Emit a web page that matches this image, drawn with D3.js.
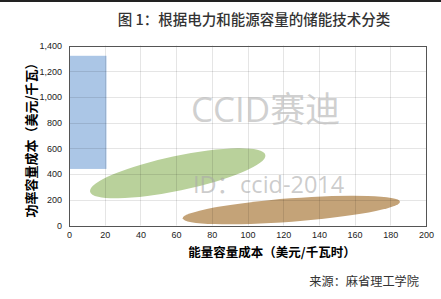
<!DOCTYPE html>
<html>
<head>
<meta charset="utf-8">
<script src="https://cdn.jsdelivr.net/npm/d3@7"></script>
<style>
  body { margin: 0; background: #fff; }
  svg { display: block; }
</style>
</head>
<body>
<svg id="chart" width="441" height="299"></svg>
<script>
// axis ticks
const xTicks = [0, 20, 40, 60, 80, 100, 120, 140, 160, 180, 200];
const yTicks = [0, 200, 400, 600, 800, 1000, 1200, 1400];

// blue block: energy cost range / power cost range
const rectEnergy = [0, 21];
const rectPower = [440, 1320];

// ellipses: ends of the long axis (energy cost, power cost) and half width in power cost
const ellipseIds = ["green", "brown"];
const ellipseX1 = [11.8, 63.7];
const ellipseY1 = [263, 56];
const ellipseX2 = [110, 185.4];
const ellipseY2 = [549, 185];
const ellipseHalf = [135, 91];
const ellipseColors = ["#b9d19b", "#c4a378"];

const svg = d3.select("#chart");
const W = 441, H = 299;
let margin = {top: 45.5, right: 15, bottom: 73.5, left: 69};

let x = d3.scaleLinear().domain([0, 200]).range([margin.left, W - margin.right]);
let y = d3.scaleLinear().domain([0, 1400]).range([H - margin.bottom, margin.top]);

// top rule of the page
svg.append("rect")
    .attr("x", 0).attr("y", 0)
    .attr("width", W).attr("height", 2)
    .attr("fill", "#222");

// title
svg.append("text")
    .attr("x", 254).attr("y", 25)
    .attr("text-anchor", "middle")
    .attr("font-family", "'Noto Sans CJK SC'")
    .attr("font-size", 14.5)
    .attr("font-weight", 500)
    .attr("fill", "#333")
    .text("图 1：根据电力和能源容量的储能技术分类");

// blue block
svg.append("rect")
    .attr("x", x(rectEnergy[0]))
    .attr("y", y(rectPower[1]))
    .attr("width", x(rectEnergy[1]) - x(rectEnergy[0]))
    .attr("height", y(rectPower[0]) - y(rectPower[1]))
    .attr("fill", "#abc6e6");

// ellipses
let ell = ellipseIds.map((id, i) => {
    let px1 = x(ellipseX1[i]), py1 = y(ellipseY1[i]);
    let px2 = x(ellipseX2[i]), py2 = y(ellipseY2[i]);
    return {
        id: id,
        cx: (px1 + px2) / 2,
        cy: (py1 + py2) / 2,
        rx: Math.hypot(px2 - px1, py2 - py1) / 2,
        ry: y(0) - y(ellipseHalf[i]),
        angle: Math.atan2(py2 - py1, px2 - px1) * 180 / Math.PI,
        color: ellipseColors[i]
    };
});

svg.selectAll(".tech")
    .data(ell)
    .enter()
    .append("ellipse")
        .classed("tech", true)
        .attr("rx", d => d.rx)
        .attr("ry", d => d.ry)
        .attr("transform", d => "translate(" + d.cx + "," + d.cy + ") rotate(" + d.angle + ")")
        .attr("fill", d => d.color);

// grid (drawn on top, faint)
let grid = svg.append("g")
    .attr("stroke", "#000")
    .attr("stroke-opacity", 0.1)
    .attr("stroke-width", 1);
grid.selectAll(".gx")
    .data(xTicks.slice(1, -1))
    .enter().append("line")
        .attr("x1", d => Math.round(x(d)) + 0.5).attr("x2", d => Math.round(x(d)) + 0.5)
        .attr("y1", y(1400)).attr("y2", y(0));
grid.selectAll(".gy")
    .data(yTicks.slice(1, -1))
    .enter().append("line")
        .attr("y1", d => Math.round(y(d)) + 0.5).attr("y2", d => Math.round(y(d)) + 0.5)
        .attr("x1", x(0)).attr("x2", x(200));

// watermark
svg.append("text")
    .attr("x", 191).attr("y", 122)
    .attr("font-family", "'Open Sans','Noto Sans CJK SC'")
    .attr("font-size", 35)
    .attr("fill", "#bbb")
    .attr("fill-opacity", 0.7)
    .text("CCID赛迪");
svg.append("text")
    .attr("x", 193).attr("y", 193)
    .attr("font-family", "'Open Sans','Noto Sans CJK SC'")
    .attr("font-size", 23.5)
    .attr("fill", "#aaa")
    .attr("fill-opacity", 0.6)
    .text("ID：ccid-2014");

// frame
svg.append("rect")
    .attr("x", Math.round(x(0)) + 0.5)
    .attr("y", Math.round(y(1400)) + 0.5)
    .attr("width", Math.round(x(200)) - Math.round(x(0)))
    .attr("height", Math.round(y(0)) - Math.round(y(1400)))
    .attr("fill", "none")
    .attr("stroke", "#555")
    .attr("stroke-width", 1);

// axes
let xAxis = svg.append("g")
    .attr("transform", "translate(0," + y(0) + ")")
    .call(d3.axisBottom(x).tickValues(xTicks).tickSize(0).tickPadding(6));
let yAxis = svg.append("g")
    .attr("transform", "translate(" + x(0) + ",0)")
    .call(d3.axisLeft(y).tickValues(yTicks).tickSize(0).tickPadding(7).tickFormat(d3.format(",")));
[xAxis, yAxis].forEach(a => {
    a.select(".domain").remove();
    a.selectAll("text")
        .attr("font-family", "'Liberation Sans', Arial")
        .attr("font-size", 9)
        .attr("fill", "#222");
});

// axis titles
svg.append("text")
    .attr("x", 272).attr("y", 257)
    .attr("text-anchor", "middle")
    .attr("font-family", "'Noto Sans CJK SC'")
    .attr("font-size", 12.5)
    .attr("font-weight", "bold")
    .attr("fill", "#000")
    .text("能量容量成本（美元/千瓦时）");
svg.append("text")
    .attr("transform", "translate(36,137) rotate(-90)")
    .attr("text-anchor", "middle")
    .attr("font-family", "'Noto Sans CJK SC'")
    .attr("font-size", 13)
    .attr("font-weight", "bold")
    .attr("fill", "#000")
    .text("功率容量成本（美元/千瓦）");

// source
svg.append("text")
    .attr("x", 419).attr("y", 286)
    .attr("text-anchor", "end")
    .attr("font-family", "'Noto Sans CJK SC'")
    .attr("font-size", 12.2)
    .attr("fill", "#333")
    .text("来源：麻省理工学院");
</script>
</body>
</html>
